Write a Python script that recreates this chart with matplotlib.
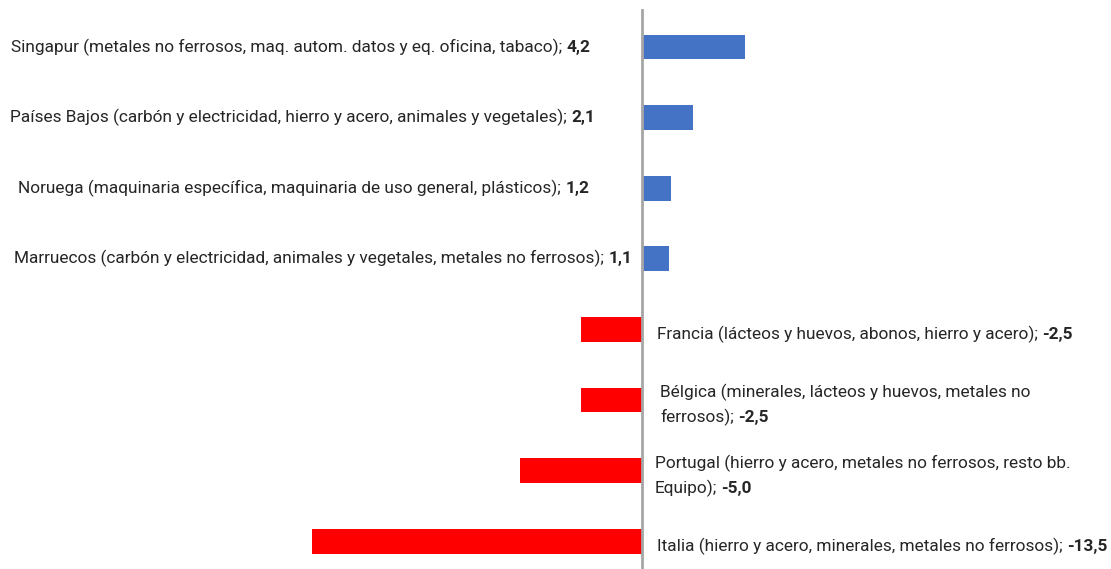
import matplotlib
matplotlib.use("Agg")
import matplotlib.pyplot as plt
from matplotlib import font_manager

# datos: saldo comercial por país (principales productos)
paises = [
    "Singapur (metales no ferrosos, maq. autom. datos y eq. oficina, tabaco)",
    "Países Bajos (carbón y electricidad, hierro y acero, animales y vegetales)",
    "Noruega (maquinaria específica, maquinaria de uso general, plásticos)",
    "Marruecos (carbón y electricidad, animales y vegetales, metales no ferrosos)",
    "Francia (lácteos y huevos, abonos, hierro y acero)",
    "Bélgica (minerales, lácteos y huevos, metales no\nferrosos)",
    "Portugal (hierro y acero, metales no ferrosos, resto bb.\nEquipo)",
    "Italia (hierro y acero, minerales, metales no ferrosos)",
]
valores = [4.2, 2.1, 1.2, 1.1, -2.5, -2.5, -5.0, -13.5]
etiquetas_valor = ["4,2", "2,1", "1,2", "1,1", "-2,5", "-2,5", "-5,0", "-13,5"]

# primera fuente que esté instalada
disponibles = {f.name for f in font_manager.fontManager.ttflist}
fuente = "DejaVu Sans"
for cand in ["Roboto", "Liberation Sans Narrow", "Roboto Condensed", "Liberation Sans"]:
    if cand in disponibles:
        fuente = cand
        break
plt.rcParams['font.family'] = [fuente, 'DejaVu Sans']
col_txt = "#262626"

fig = plt.figure(figsize=(11.11, 5.69), dpi=100)
ax = fig.add_axes([0, 0, 1, 1])
renderer = fig.canvas.get_renderer()

# ajustar tamaño de letra: la etiqueta de Singapur ocupa ~577 px
prueba = fig.text(0, 0, paises[0] + "; " + etiquetas_valor[0], fontsize=12)
ancho = prueba.get_window_extent(renderer).width
prueba.remove()
fs = min(13.5, 12 * 577 / ancho)

y = list(range(len(valores)))
colores = ["#4472C4" if v > 0 else "#FF0000" for v in valores]
ax.barh(y, valores, height=0.35, color=colores, zorder=2)

ax.set_xlim(-26.26, 19.18)
ax.set_ylim(7.394, -0.666)
ax.axvline(0, ymin=0, ymax=0.982, color="#a6a6a6", lw=2, zorder=3)
ax.axis("off")

# separación de la etiqueta respecto al eje (px)
sep = [-52, -47, -53, -10, 15, 18, 13, 15]
gap = 4
interlinea = 25

for i, (nombre, lab) in enumerate(zip(paises, etiquetas_valor)):
    if valores[i] > 0:
        tb = ax.annotate(lab, xy=(0, i), xytext=(sep[i], 0), textcoords="offset pixels",
                         ha="right", va="center", fontsize=fs, fontweight="bold", color=col_txt)
        w = tb.get_window_extent(renderer).width
        ax.annotate(nombre + ";", xy=(0, i), xytext=(sep[i] - w - gap, 0),
                    textcoords="offset pixels", ha="right", va="center",
                    fontsize=fs, color=col_txt)
    else:
        lineas = nombre.split("\n")
        n = len(lineas)
        dy0 = -5 + (n - 1) * interlinea / 2
        for k, linea in enumerate(lineas):
            dy = dy0 - k * interlinea
            txt = linea + (";" if k == n - 1 else "")
            t = ax.annotate(txt, xy=(0, i), xytext=(sep[i], dy), textcoords="offset pixels",
                            ha="left", va="center", fontsize=fs, color=col_txt)
            if k == n - 1:
                w = t.get_window_extent(renderer).width
                ax.annotate(lab, xy=(0, i), xytext=(sep[i] + w + gap, dy),
                            textcoords="offset pixels", ha="left", va="center",
                            fontsize=fs, fontweight="bold", color=col_txt)

fig.savefig("out.png", dpi=100, facecolor="white")
